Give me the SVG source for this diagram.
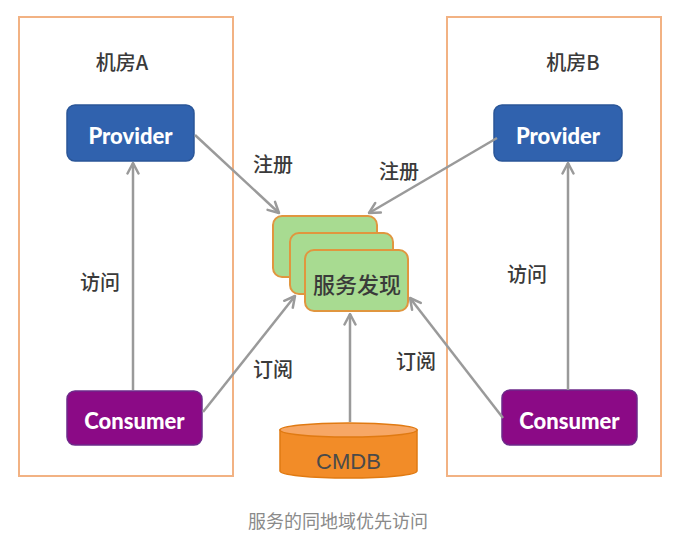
<svg xmlns="http://www.w3.org/2000/svg" width="686" height="542" viewBox="0 0 686 542">
<style>
.room{fill:#fff;stroke:#F2B283;stroke-width:2}
.prov{fill:#3062AE;stroke:#2A5698;stroke-width:1.5}
.cons{fill:#8B0A86;stroke:#6E2A8A;stroke-width:1.5}
.sd{fill:#A8DB91;stroke:#E0963F;stroke-width:2}
.btxt{font-family:Lato,"Open Sans",sans-serif;font-weight:900;font-size:22px;fill:#fff;text-anchor:middle}
.cn{font-family:"Noto Sans CJK SC","Noto Sans",sans-serif;font-weight:500;font-size:20px;fill:#3a3a3a;text-anchor:middle}
.conn line{stroke:#9A9A9A;stroke-width:2.5;marker-end:url(#arr)}
</style>
<defs>
<marker id="arr" viewBox="0 0 14 14" refX="12.5" refY="7" markerWidth="14" markerHeight="14" markerUnits="userSpaceOnUse" orient="auto">
<path d="M2,1.5 L12.5,7 L2,12.5" fill="none" stroke="#9A9A9A" stroke-width="2.5" stroke-linecap="round" stroke-linejoin="round"/>
</marker>
</defs>
<rect width="686" height="542" fill="#fff"/>
<g id="roomA"><rect class="room" x="19" y="17" width="214" height="459"/><text class="cn" x="122" y="70">机房A</text></g>
<g id="roomB"><rect class="room" x="447" y="17" width="214" height="459"/><text class="cn" x="573" y="70">机房B</text></g>
<g id="providerA"><rect class="prov" x="67" y="105" width="127" height="56" rx="8"/><text class="btxt" x="130.5" y="144">Provider</text></g>
<g id="providerB"><rect class="prov" x="494" y="105" width="128" height="56" rx="8"/><text class="btxt" x="558" y="144">Provider</text></g>
<g id="consumerA"><rect class="cons" x="67" y="391" width="135" height="54" rx="8"/><text class="btxt" x="134.5" y="429">Consumer</text></g>
<g id="consumerB"><rect class="cons" x="502" y="390" width="135" height="55" rx="8"/><text class="btxt" x="569.5" y="429">Consumer</text></g>
<g id="discovery">
<rect class="sd" x="273" y="216" width="104" height="61" rx="9"/>
<rect class="sd" x="290" y="233" width="103" height="61" rx="9"/>
<rect class="sd" x="305" y="250" width="103" height="61" rx="9"/>
<text class="cn" x="357" y="293" style="font-size:22px">服务发现</text>
</g>
<g id="cmdb">
<path d="M280,430 L280,471 A68.5,7 0 0 0 417,471 L417,430 Z" fill="#F28C28" stroke="#E07A12" stroke-width="1.5"/>
<ellipse cx="348.5" cy="430" rx="68.5" ry="7" fill="#F7A765" stroke="#E07A12" stroke-width="1.5"/>
<text x="348.5" y="469" font-family="'Liberation Sans',Arial,sans-serif" font-size="22" fill="#4a4a4a" text-anchor="middle">CMDB</text>
</g>
<g id="connectors" class="conn">
<line x1="195" y1="135" x2="279" y2="213"/>
<line x1="497" y1="138" x2="369" y2="213"/>
<line x1="203" y1="412" x2="295" y2="296"/>
<line x1="503" y1="418" x2="410" y2="298"/>
<line x1="350" y1="422" x2="350" y2="314"/>
<line x1="133" y1="390" x2="133" y2="163"/>
<line x1="568" y1="390" x2="568" y2="163"/>
</g>
<g id="labels">
<text class="cn" x="273" y="172">注册</text>
<text class="cn" x="399" y="179">注册</text>
<text class="cn" x="100" y="290">访问</text>
<text class="cn" x="527" y="282">访问</text>
<text class="cn" x="273" y="377">订阅</text>
<text class="cn" x="416" y="369">订阅</text>
<text x="338" y="528" font-family="'Noto Sans CJK SC',sans-serif" font-size="18" fill="#8a8a8a" text-anchor="middle">服务的同地域优先访问</text>
</g>
</svg>
